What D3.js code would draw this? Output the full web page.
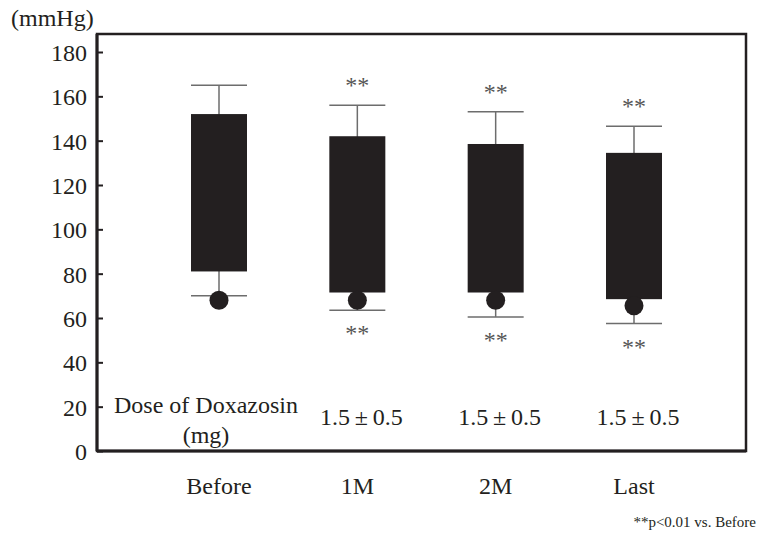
<!DOCTYPE html>
<html>
<head>
<meta charset="utf-8">
<script src="https://cdn.jsdelivr.net/npm/d3@7"></script>
<style>
  html, body { margin: 0; padding: 0; background: #fff; }
  svg { display: block; font-family: "Liberation Serif", "Times New Roman", serif; }
</style>
</head>
<body>
<div id="chart"></div>
<script>
// values (mmHg)
var categories = ['Before', '1M', '2M', 'Last'];
var boxTop = [152, 142, 138.5, 134.5];
var boxBottom = [81, 71.5, 71.5, 68.5];
var whiskerHigh = [165, 156, 153, 146.5];
var whiskerLow = [70, 63.5, 60.5, 57.5];
var dotValues = [68, 68, 68, 65.5];
var significant = [false, true, true, true];
var doseLabels = [['Dose of Doxazosin', '(mg)'], ['1.5\u2009\u00b1\u20090.5'], ['1.5\u2009\u00b1\u20090.5'], ['1.5\u2009\u00b1\u20090.5']];
var yTicks = [0, 20, 40, 60, 80, 100, 120, 140, 160, 180];

(function() {
    var width = 767, height = 536;
    var frame = { left: 97, right: 746, top: 34, bottom: 451 };
    var barWidth = 56;
    var ink = '#231f20';

    var svg = d3.select('#chart').append('svg')
        .attr('width', width)
        .attr('height', height);

    var x = d3.scalePoint()
        .domain(categories)
        .range([219, 634]);

    var y = d3.scaleLinear()
        .domain([0, 180])
        .range([frame.bottom, 52]);

    var data = categories.map(function(c, i) {
        return {
            cat: c,
            top: boxTop[i],
            bottom: boxBottom[i],
            hi: whiskerHigh[i],
            lo: whiskerLow[i],
            dot: dotValues[i],
            sig: significant[i],
            dose: doseLabels[i]
        };
    });

    // frame
    svg.append('rect')
        .attr('x', frame.left)
        .attr('y', frame.top)
        .attr('width', frame.right - frame.left)
        .attr('height', frame.bottom - frame.top)
        .attr('fill', 'none')
        .attr('stroke', ink)
        .attr('stroke-width', 2.5);

    // y axis, ticks pointing inward
    var yAxis = svg.append('g')
        .attr('transform', 'translate(' + frame.left + ',0)')
        .call(d3.axisLeft(y).tickValues(yTicks).tickSizeInner(-6).tickSizeOuter(0).tickPadding(10));
    yAxis.select('.domain').remove();
    yAxis.selectAll('.tick line').attr('stroke', ink).attr('stroke-width', 2);
    yAxis.selectAll('.tick text')
        .attr('fill', ink)
        .style('font-family', '"Liberation Serif", "Times New Roman", serif')
        .style('font-size', '24px')
        .attr('dy', '0.36em');

    svg.append('line')
        .attr('x1', frame.left).attr('x2', frame.left)
        .attr('y1', frame.top).attr('y2', frame.bottom)
        .attr('stroke', ink).attr('stroke-width', 3);
    svg.append('line')
        .attr('x1', frame.left).attr('x2', frame.right)
        .attr('y1', frame.bottom).attr('y2', frame.bottom)
        .attr('stroke', ink).attr('stroke-width', 3);

    svg.append('text')
        .attr('x', 11)
        .attr('y', 26)
        .attr('fill', ink)
        .style('font-size', '24px')
        .text('(mmHg)');

    var groups = svg.append('g')
        .selectAll('g.cat')
        .data(data)
        .join('g')
        .attr('class', 'cat')
        .attr('transform', function(d) { return 'translate(' + x(d.cat) + ',0)'; });

    // whiskers
    groups.append('line')
        .attr('x1', 0).attr('x2', 0)
        .attr('y1', function(d) { return y(d.hi); })
        .attr('y2', function(d) { return y(d.lo); })
        .attr('stroke', '#6d6d6d')
        .attr('stroke-width', 1.5);
    groups.append('line')
        .attr('x1', -barWidth / 2).attr('x2', barWidth / 2)
        .attr('y1', function(d) { return y(d.hi); })
        .attr('y2', function(d) { return y(d.hi); })
        .attr('stroke', '#6d6d6d')
        .attr('stroke-width', 1.5);
    groups.append('line')
        .attr('x1', -barWidth / 2).attr('x2', barWidth / 2)
        .attr('y1', function(d) { return y(d.lo); })
        .attr('y2', function(d) { return y(d.lo); })
        .attr('stroke', '#6d6d6d')
        .attr('stroke-width', 1.5);

    // boxes
    groups.append('rect')
        .attr('x', -barWidth / 2)
        .attr('width', barWidth)
        .attr('y', function(d) { return y(d.top); })
        .attr('height', function(d) { return y(d.bottom) - y(d.top); })
        .attr('fill', ink);

    groups.append('circle')
        .attr('cx', 0)
        .attr('cy', function(d) { return y(d.dot); })
        .attr('r', 9.5)
        .attr('fill', ink);

    // significance marks
    var sig = groups.filter(function(d) { return d.sig; });
    sig.append('text')
        .attr('text-anchor', 'middle')
        .attr('y', function(d) { return y(d.hi) - 12; })
        .attr('fill', '#555')
        .style('font-size', '24px')
        .text('**');
    sig.append('text')
        .attr('text-anchor', 'middle')
        .attr('y', function(d) { return y(d.lo) + 31; })
        .attr('fill', '#555')
        .style('font-size', '24px')
        .text('**');

    // dose labels
    groups.each(function(d, i) {
        var g = d3.select(this);
        var lines = d.dose;
        var baseY = lines.length > 1 ? 413 : 425;
        lines.forEach(function(t, k) {
            g.append('text')
                .attr('x', i === 0 ? -13 : 4)
                .attr('y', baseY + k * 30)
                .attr('text-anchor', 'middle')
                .attr('fill', ink)
                .style('font-size', '24px')
                .text(t);
        });
    });

    // category labels
    groups.append('text')
        .attr('y', 494)
        .attr('text-anchor', 'middle')
        .attr('fill', ink)
        .style('font-size', '24px')
        .text(function(d) { return d.cat; });

    svg.append('text')
        .attr('x', 756)
        .attr('y', 527)
        .attr('text-anchor', 'end')
        .attr('fill', ink)
        .style('font-size', '15px')
        .text('**p<0.01 vs. Before');
})();
</script>
</body>
</html>
